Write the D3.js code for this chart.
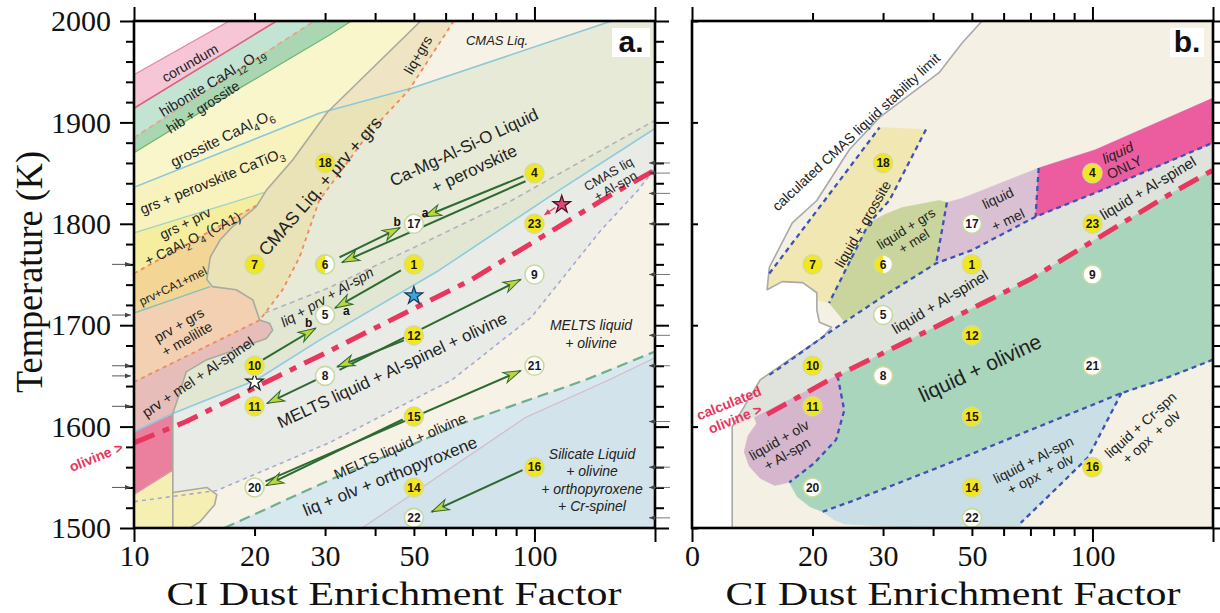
<!DOCTYPE html>
<html>
<head>
<meta charset="utf-8">
<title>CI dust enrichment vs temperature phase diagrams</title>
<script src="https://cdn.jsdelivr.net/npm/d3@7/dist/d3.min.js"></script>
<style>
  html, body { margin: 0; padding: 0; background: #ffffff; }
  svg { display: block; }
</style>
</head>
<body>
<svg id="chart" width="1220" height="613"></svg>
<script>
// ---------------- Experimental runs ----------------
const runIds  = [18, 4, 17, 23, 7, 6, 1, 9, 5, 12, 10, 8, 21, 11, 15, 20, 16, 14, 22];
const runCI   = [30, 100, 50, 100, 20, 30, 50, 100, 30, 50, 20, 30, 100, 20, 50, 20, 100, 50, 50];
const runT    = [1860, 1850, 1800, 1800, 1760, 1760, 1760, 1750, 1710, 1690, 1660, 1650, 1660, 1620, 1610, 1540, 1560, 1540, 1510];
const runKind = ["y","y","w","y","y","h","y","w","w","y","y","w","w","y","y","w","y","y","w"];

// Reference compositions (stars)
const starCI   = [20, 50, 117];
const starT    = [1644, 1729, 1819];
const starKind = ["open", "blue", "red"];

// Cooling / heating paths between runs: [CI, T] start and end
const pathStart = [[93.9,1847],[95.0,1842],[32.6,1767],[46.4,1754],[21.0,1666],[32.6,1656],[47.2,1685],[28.5,1646],[21.3,1546],[46.9,1607],[93.4,1557]];
const pathEnd   = [[53.0,1807],[33.1,1762],[46.1,1796],[31.8,1717],[28.4,1697],[92.3,1745],[32.2,1659],[21.5,1623],[92.3,1655],[21.4,1542],[55.4,1516]];
const pathTagText = ["a", "b", "a", "b"];
const pathTagCI   = [53.3, 45.4, 33.9, 27.3];
const pathTagT    = [1811, 1802, 1714, 1702];
const starLinkStart = [112.8, 1816];
const starLinkEnd   = [105.9, 1809];

// Run temperatures flagged beside the frame
const leftMarksT  = [1760, 1710, 1660, 1650, 1620, 1540];
const rightMarksT = [1860, 1850, 1830, 1800, 1750, 1690, 1660, 1605, 1560, 1540, 1510];

// Axis ticks
const xMinorTicks = [20, 30, 40, 50, 60, 70, 80, 90];
const xMajorTicks = [10, 100, 200];
const xLabelValues = [10, 20, 30, 50, 100];
const xLabelTextA = ["10", "20", "30", "50", "100"];
const xLabelTextB = ["0", "20", "30", "50", "100"];
const yMajorTicks = [1500, 1600, 1700, 1800, 1900, 2000];
const yMinorTicks = [1520,1540,1560,1580,1620,1640,1660,1680,1720,1740,1760,1780,1820,1840,1860,1880,1920,1940,1960,1980];

// Olivine saturation (dash-dot)
const olivineLine  = [[10,1584],[13.5,1605],[22.7,1649],[30.2,1673],[69.7,1745],[155.8,1829],[200,1853]];
const olivineCalcB = [[15.4,1612],[22.7,1649],[30.2,1673],[69.7,1745],[155.8,1829],[200,1853]];

// ---------------- Panel a: boundaries [CI, T] ----------------
const corTop     = [[10,1947],[17.3,2000]];
const corBottom  = [[10,1914],[22.7,2000]];
const hibDash    = [[10,1885],[28.2,2000]];
const grsIn      = [[10,1870],[18.4,1934],[30.7,1986],[34.9,2000]];
const prvIn      = [[10,1836],[29.0,1909],[49.5,1934],[155.8,2000]];
const ca1Top     = [[10,1791],[21.2,1831]];
const ca1Dash    = [[10,1751],[20.2,1818]];
const melTop     = [[10,1712],[15.5,1738]];
const melDash    = [[10,1644],[20.6,1705]];
const grsOutLiq  = [[62.9,2000],[48.6,1932],[38.7,1890],[29.0,1823],[25.9,1767],[23.5,1735],[20.6,1705]];
const prvOutLiq  = [[21.2,1712],[30.7,1737],[51.5,1779],[87.7,1823],[128.7,1860],[200,1902]];
const splIn      = [[10,1595],[12.5,1613],[20.2,1646],[29.0,1685],[57.7,1754],[115.1,1833],[200,1894]];
const meltsOlv   = [[10,1526],[16.1,1537],[30.7,1584],[62.2,1646],[98.3,1708],[146.8,1794],[181.4,1833],[200,1855]];
const opxIn      = [[16.8,1500],[30.7,1547],[64.7,1602],[134,1646],[200,1674]];
const crSplIn    = [[37.1,1500],[95.0,1609],[153.3,1646],[200,1668]];
const pinkEdge   = [[10,1533],[12.5,1557]];
const cmasLimitA = [[52.0,2000],[30.4,1910],[24.9,1863],[21.4,1833],[20.2,1817],[17.6,1797],[16.4,1784],[15.5,1767],[15.2,1745],[15.7,1738],[18.0,1735],[19.8,1725],[20.6,1705],[21.8,1702],[22.2,1695],[21.4,1687],[18.0,1676],[15.2,1666],[13.5,1654],[13.0,1633],[12.5,1613],[12.5,1500]];
const lobeA      = [[12.5,1535],[15.2,1540],[16.1,1533],[15.9,1523],[14.6,1506],[13.8,1500]];

// Panel a: phase fields
const fBlank     = [[10,2000],[17.3,2000],[10,1947]];
const fCorundum  = [[10,1947],[17.3,2000],[22.7,2000],[10,1914]];
const fHibonite  = [[10,1914],[22.7,2000],[28.2,2000],[10,1885]];
const fHibGrs    = [[10,1885],[28.2,2000],[34.9,2000],[30.7,1986],[18.4,1934],[10,1870]];
const fGrossite  = [[10,1870],[18.4,1934],[30.7,1986],[34.9,2000],[52.0,2000],[30.4,1910],[29.0,1909],[10,1836]];
const fGrsPrv    = [[10,1836],[29.0,1909],[30.4,1910],[24.9,1863],[21.4,1833],[21.2,1831],[10,1791]];
const fGrsPrvCa1 = [[10,1791],[21.2,1831],[20.2,1817],[10,1751]];
const fPrvCa1Mel = [[10,1751],[20.2,1818],[17.6,1797],[16.4,1784],[15.5,1767],[15.2,1745],[15.5,1738],[10,1712]];
const fPrvGrsMel = [[10,1712],[15.5,1738],[15.7,1738],[18.0,1735],[19.8,1725],[20.6,1705],[10,1644]];
const fPrvMelSpl = [[10,1644],[20.6,1705],[21.8,1702],[22.2,1695],[21.4,1687],[18.0,1676],[15.2,1666],[13.5,1654],[13.0,1633],[12.5,1613],[10,1595]];
const fPinkLow   = [[10,1595],[12.5,1613],[12.5,1557],[10,1533]];
const fYellowLow = [[10,1533],[12.5,1557],[12.5,1500],[10,1500]];
const fLobe      = [[12.5,1535],[15.2,1540],[16.1,1533],[15.9,1523],[14.6,1506],[13.8,1500],[12.5,1500]];
const fLiqGrs    = [[52.0,2000],[62.9,2000],[48.6,1932],[30.4,1910]];
const fLiqPrvGrs = [[30.4,1910],[48.6,1932],[38.7,1890],[29.0,1823],[25.9,1767],[23.5,1735],[20.6,1705],[19.8,1725],[18.0,1735],[15.7,1738],[15.2,1745],[15.5,1767],[16.4,1784],[17.6,1797],[20.2,1817],[21.4,1833],[24.9,1863]];
const fLiqPrv    = [[48.6,1932],[49.5,1934],[155.8,2000],[200,2000],[200,1902],[128.7,1860],[87.7,1823],[51.5,1779],[30.7,1737],[21.2,1712],[23.5,1735],[25.9,1767],[29.0,1823],[38.7,1890]];
const fLiqPrvSpl = [[21.2,1712],[30.7,1737],[51.5,1779],[87.7,1823],[128.7,1860],[200,1902],[200,1894],[115.1,1833],[57.7,1754],[29.0,1685],[20.2,1646],[12.5,1613],[13.0,1633],[13.5,1654],[15.2,1666],[18.0,1676],[21.4,1687],[22.2,1695],[21.8,1702],[20.6,1705]];
const fMeltsSpl  = [[12.5,1613],[20.2,1646],[29.0,1685],[57.7,1754],[115.1,1833],[200,1894],[200,1855],[181.4,1833],[146.8,1794],[98.3,1708],[62.2,1646],[30.7,1584],[16.1,1537],[15.2,1540],[12.5,1535]];
const fOpx       = [[16.8,1500],[30.7,1547],[64.7,1602],[134,1646],[200,1674],[200,1500]];
const fCrSpl     = [[37.1,1500],[95.0,1609],[153.3,1646],[200,1668],[200,1500]];

// ---------------- Panel b: schematic fields [CI, T] ----------------
const cmasLimitB = [[53.0,2000],[47.2,1978],[41.4,1949],[29.4,1905],[24.7,1873],[20.5,1823],[17.8,1801],[15.6,1757],[15.4,1735],[16.8,1743],[18.9,1742],[20.5,1732],[20.5,1715],[20.8,1703],[22.3,1698],[21.2,1688],[17.5,1666],[14.8,1646],[12.6,1600],[12.6,1500]];
const gLiqGrs    = [[29.4,1895],[38.4,1893],[31.1,1823],[27.7,1801],[22.0,1722],[20.5,1725],[20.5,1732],[18.9,1742],[16.8,1743],[15.4,1735],[15.6,1751],[22.4,1833]];
const gLiqGrsMel = [[22.0,1722],[27.7,1801],[30.2,1809],[33.5,1816],[41.4,1823],[43.3,1821],[40.7,1761],[29.9,1728],[24.0,1704]];
const gLiqMel    = [[43.3,1821],[47.2,1825],[73.4,1855],[72.1,1807],[50,1774],[40.7,1761]];
const gLiqOnly   = [[73.4,1855],[101.7,1873],[200,1924],[200,1880],[105.3,1833],[72.1,1807]];
const gLiqSpl    = [[15.6,1651],[16.3,1656],[22.4,1695],[29.9,1728],[40.7,1761],[50,1774],[72.1,1807],[105.3,1833],[200,1880],[200,1853],[155.8,1829],[69.7,1745],[30.2,1673],[22.7,1649],[13.5,1605],[12.6,1600],[14.8,1646]];
const gLiqOlvSpl = [[14.3,1609],[22.7,1649],[23.1,1650],[24.0,1616],[22.9,1587],[20.2,1564],[17.5,1545],[16.1,1542],[14.8,1549],[13.9,1561],[13.5,1575],[13.8,1591],[14.5,1603]];
const gLiqOlv    = [[23.1,1650],[30.2,1673],[69.7,1745],[155.8,1829],[200,1853],[200,1666],[148.5,1646],[118.1,1633],[41.4,1560],[25.7,1528],[21.2,1516],[19.7,1521],[18.3,1531],[17.5,1545],[20.2,1564],[22.9,1587],[24.0,1616]];
const gLiqSplOpx = [[21.2,1516],[25.7,1528],[41.4,1560],[118.1,1633],[97.7,1570],[83.7,1544],[66.2,1505],[66.2,1502],[32.9,1501],[24.0,1504],[22.7,1508]];
const bGrsLeft   = [[15.6,1751],[22.4,1833],[29.4,1895]];
const bGrsRight  = [[38.4,1893],[31.1,1823],[27.7,1801],[22.0,1722]];
const bSplTop    = [[15.6,1651],[16.3,1656],[22.4,1695],[29.9,1728],[40.7,1761],[50,1774],[72.1,1807],[105.3,1833],[200,1880]];
const bMelLeft   = [[43.3,1821],[40.7,1761]];
const bMelRight  = [[73.4,1855],[72.1,1807]];
const bOlvSplEdge = [[23.1,1650],[24.0,1616],[22.9,1587],[20.2,1564],[17.5,1545]];
const bOpxTop    = [[21.2,1516],[25.7,1528],[41.4,1560],[118.1,1633],[148.5,1646],[200,1666]];
const bCrSplEdge = [[118.1,1633],[97.7,1570],[83.7,1544],[66.2,1505]];

// ---------------- Layout ----------------
const TOP = 21, BOTTOM = 528;
const A_LEFT = 134, A_RIGHT = 655, B_LEFT = 692, B_RIGHT = 1213;
const SANS = "'Liberation Sans', Arial, Helvetica, sans-serif";
const SERIF = "'Liberation Serif', 'Times New Roman', Times, serif";

const svg = d3.select("#chart");
const y  = d3.scaleLinear().domain([1500, 2000]).range([BOTTOM, TOP]);
const xA = d3.scaleLog().domain([10, 200]).range([A_LEFT, A_RIGHT]);
const xB = d3.scaleLog().domain([10, 200]).range([B_LEFT, B_RIGHT]);

const defs = svg.append("defs");
[["clipA", A_LEFT], ["clipB", B_LEFT]].forEach(([id, x0]) => {
  defs.append("clipPath").attr("id", id).append("rect")
    .attr("x", x0).attr("y", TOP).attr("width", A_RIGHT - A_LEFT).attr("height", BOTTOM - TOP);
});
function marker(id, d, fill, stroke, box) {
  defs.append("marker").attr("id", id)
    .attr("viewBox", box.join(" ")).attr("refX", 0).attr("refY", 0)
    .attr("markerWidth", box[2]).attr("markerHeight", box[3])
    .attr("markerUnits", "userSpaceOnUse").attr("orient", "auto")
    .append("path").attr("d", d).attr("fill", fill)
    .attr("stroke", stroke).attr("stroke-width", stroke === "none" ? 0 : 1);
}
marker("runHead", "M0,0 L-17,-5.5 L-12,0 L-17,5.5 Z", "#bcd63c", "#2d6a31", [-19, -7, 21, 14]);
marker("redHead", "M0,0 L-6,-3 L-6,3 Z", "#e8375f", "none", [-7, -4, 8, 8]);
marker("tinyHead", "M0,0 L-6,-2.4 L-6,2.4 Z", "#444", "none", [-7, -3, 8, 6]);

function field(g, line, pts, fill) {
  g.append("path").attr("d", line(pts) + "Z").attr("fill", fill).attr("stroke", fill).attr("stroke-width", 0.6);
}
function edge(g, line, pts, stroke, width, dash) {
  g.append("path").attr("d", line(pts)).attr("fill", "none")
    .attr("stroke", stroke).attr("stroke-width", width)
    .attr("stroke-dasharray", dash || null).attr("stroke-linejoin", "round");
}

// ---------------- Panel a ----------------
const lineA = d3.line().x(d => xA(d[0])).y(d => y(d[1]));
const gA = svg.append("g").attr("clip-path", "url(#clipA)");
gA.append("rect").attr("x", A_LEFT).attr("y", TOP).attr("width", A_RIGHT - A_LEFT).attr("height", BOTTOM - TOP).attr("fill", "#f7f2e6");
[
  [fBlank, "#ffffff"], [fCorundum, "#f6c6d6"], [fHibonite, "#c3e3d3"], [fHibGrs, "#aad7b1"],
  [fGrossite, "#f9f6cc"], [fGrsPrv, "#f8f2bc"], [fGrsPrvCa1, "#f5ee9f"], [fPrvCa1Mel, "#f3d596"],
  [fPrvGrsMel, "#f3d0b1"], [fPrvMelSpl, "#e7bdb9"], [fPinkLow, "#ea809d"], [fYellowLow, "#f6efb3"],
  [fLobe, "#f6efb3"], [fLiqGrs, "#efe5c4"], [fLiqPrvGrs, "#e9e3b7"], [fLiqPrv, "#e7ead6"],
  [fLiqPrvSpl, "#e1e7d2"], [fMeltsSpl, "#e9ebe6"], [fOpx, "#d7e8ee"], [fCrSpl, "#d2e3eb"]
].forEach(([pts, c]) => field(gA, lineA, pts, c));

edge(gA, lineA, corTop, "#e58aa8", 1.3);
edge(gA, lineA, corBottom, "#d9607f", 1.6);
edge(gA, lineA, hibDash, "#e8a088", 1.6, "5,4");
edge(gA, lineA, grsIn, "#6fb672", 1.3);
edge(gA, lineA, prvIn, "#8cc8d8", 1.6);
edge(gA, lineA, ca1Top, "#9dd2c4", 1.3);
edge(gA, lineA, ca1Dash, "#f08a5a", 1.8, "4,4");
edge(gA, lineA, melTop, "#7fc5b8", 1.3);
edge(gA, lineA, melDash, "#f08a5a", 1.8, "4,4");
edge(gA, lineA, grsOutLiq, "#f08a5a", 1.8, "4,4");
edge(gA, lineA, prvOutLiq, "#b2b2bc", 1.6, "5,4");
edge(gA, lineA, splIn, "#8ccbe0", 1.6);
edge(gA, lineA, meltsOlv, "#a8a8d2", 1.6, "4,4");
edge(gA, lineA, opxIn, "#6fb08a", 2.2, "11,6");
edge(gA, lineA, crSplIn, "#d8b8c8", 1.1);
edge(gA, lineA, pinkEdge, "#c89aa0", 1.1);
edge(gA, lineA, cmasLimitA, "#a9a9a0", 1.6);
edge(gA, lineA, lobeA, "#a9a9a0", 1.6);
edge(gA, lineA, olivineLine, "#e8375f", 5, "22,9,7,9");

// ---------------- Panel b ----------------
const lineB = d3.line().x(d => xB(d[0])).y(d => y(d[1]));
const gB = svg.append("g").attr("clip-path", "url(#clipB)");
gB.append("rect").attr("x", B_LEFT).attr("y", TOP).attr("width", B_RIGHT - B_LEFT).attr("height", BOTTOM - TOP).attr("fill", "#ffffff");
field(gB, lineB, cmasLimitB.concat([[200, 1500], [200, 2000]]), "#f5f0e4");
[
  [gLiqSpl, "#dfe3dc"], [gLiqGrs, "#f0e7b3"], [gLiqGrsMel, "#c9d59c"], [gLiqMel, "#dac0d3"],
  [gLiqOnly, "#ec5d9f"], [gLiqOlv, "#a9d5bc"], [gLiqOlvSpl, "#d5b6cd"], [gLiqSplOpx, "#c9dfe5"]
].forEach(([pts, c]) => field(gB, lineB, pts, c));
edge(gB, lineB, cmasLimitB, "#a9a9a9", 1.6);
[bGrsLeft, bGrsRight, bSplTop, bMelLeft, bMelRight, bOlvSplEdge, bOpxTop, bCrSplEdge]
  .forEach(pts => edge(gB, lineB, pts, "#3b54b4", 2.3, "5,4"));
edge(gB, lineB, olivineCalcB, "#e8375f", 5, "22,9,7,9");

// ---------------- Paths, stars (panel a) ----------------
pathStart.forEach((s, i) => {
  const e = pathEnd[i];
  gA.append("line")
    .attr("x1", xA(s[0])).attr("y1", y(s[1])).attr("x2", xA(e[0])).attr("y2", y(e[1]))
    .attr("stroke", "#2d6a31").attr("stroke-width", 2).attr("marker-end", "url(#runHead)");
});
gA.append("line")
  .attr("x1", xA(starLinkStart[0])).attr("y1", y(starLinkStart[1]))
  .attr("x2", xA(starLinkEnd[0])).attr("y2", y(starLinkEnd[1]))
  .attr("stroke", "#e8375f").attr("stroke-width", 1.3).attr("marker-end", "url(#redHead)");
pathTagText.forEach((t, i) => {
  gA.append("text").attr("x", xA(pathTagCI[i])).attr("y", y(pathTagT[i]))
    .attr("dy", "0.35em").attr("text-anchor", "middle")
    .attr("font-family", SANS).attr("font-weight", "bold").attr("font-size", 12).attr("fill", "#111").text(t);
});
const starStyle = { open: ["#ffffff", "#222"], blue: ["#3aa6dc", "#1b3a5a"], red: ["#e2457a", "#4a1424"] };
starCI.forEach((c, i) => {
  gA.append("path").attr("d", d3.symbol(d3.symbolStar, 95)())
    .attr("transform", `translate(${xA(c)},${y(starT[i])})`)
    .attr("fill", starStyle[starKind[i]][0]).attr("stroke", starStyle[starKind[i]][1]).attr("stroke-width", 1.3);
});

// ---------------- Run markers (both panels) ----------------
function runMarkers(g, x) {
  const R = 9.5;
  runIds.forEach((id, i) => {
    const k = runKind[i];
    const m = g.append("g").attr("transform", `translate(${x(runCI[i])},${y(runT[i])})`);
    m.append("circle").attr("r", R).attr("fill", k === "y" ? "#f1e71c" : "#ffffff");
    if (k === "h") m.append("path").attr("d", `M0,${-R} A${R},${R} 0 0 0 0,${R} Z`).attr("fill", "#f1e71c");
    m.append("circle").attr("r", R).attr("fill", "none")
      .attr("stroke", k === "y" ? "#d9dc8c" : "#c9d9a2").attr("stroke-width", 1.6);
    m.append("text").attr("text-anchor", "middle").attr("dy", "0.36em")
      .attr("font-family", SANS).attr("font-weight", "bold").attr("font-size", 12).attr("fill", "#1a1a1a").text(id);
  });
}

// ---------------- Field labels ----------------
function addLabel(x0, y0, a) {
  const t = svg.append("text")
    .attr("transform", `translate(${x0 + a.x},${y0 + a.y}) rotate(${a.r || 0})`)
    .attr("text-anchor", "middle").attr("font-family", SANS).attr("font-size", a.s)
    .attr("fill", a.c || "#222").attr("font-style", a.it ? "italic" : null)
    .attr("font-weight", a.b ? "bold" : null).style("white-space", "pre");
  const lh = a.lh || a.s * 1.15;
  const n = a.lines.length;
  a.lines.forEach((line, i) => {
    const base = (i - (n - 1) / 2) * lh + a.s * 0.35;
    const parts = line.split(/(_\{[^}]*\})/).filter(p => p);
    let shift = 0, first = true;
    parts.forEach(p => {
      const m = p.match(/^_\{([^}]*)\}$/);
      const want = m ? a.s * 0.28 : 0;
      const ts = t.append("tspan").text(m ? m[1] : p);
      if (m) ts.attr("font-size", a.s * 0.7);
      if (a.itLine === i) ts.attr("font-style", "italic");
      if (first) { ts.attr("x", 0).attr("y", base + want); first = false; }
      else ts.attr("dy", want - shift);
      shift = want;
    });
  });
}
const RED = "#e8375f";
const labelsA = [
  { lines: ["corundum"], x: 56, y: 42, r: -30, s: 14 },
  { lines: ["hibonite CaAl_{12}O_{19}"], x: 78, y: 61, r: -31, s: 14.5 },
  { lines: ["hib + grossite"], x: 69, y: 86, r: -33, s: 14 },
  { lines: ["grossite CaAl_{4}O_{6}"], x: 88, y: 117, r: -26, s: 15 },
  { lines: ["grs + perovskite CaTiO_{3}"], x: 78, y: 160, r: -22, s: 14.5 },
  { lines: ["grs + prv", "+ CaAl_{2}O_{4} (CA1)"], x: 55, y: 210, r: -26, s: 14, lh: 17 },
  { lines: ["prv+CA1+mel"], x: 39, y: 265, r: -26, s: 12 },
  { lines: ["prv + grs", "+ melilite"], x: 49, y: 311, r: -30, s: 14, lh: 16 },
  { lines: ["prv + mel + Al-spinel"], x: 64, y: 356, r: -34, s: 14.5 },
  { lines: ["CMAS Liq. + prv + grs"], x: 186, y: 165, r: -49, s: 18 },
  { lines: ["liq+grs"], x: 284, y: 34, r: -60, s: 14 },
  { lines: ["CMAS Liq."], x: 363, y: 19, s: 13, it: true },
  { lines: ["Ca-Mg-Al-Si-O Liquid", "+ perovskite"], x: 335, y: 137, r: -25, s: 17, lh: 24 },
  { lines: ["CMAS liq", "+ Al-spn"], x: 478, y: 159, r: -30, s: 13, lh: 14 },
  { lines: ["liq + prv + Al-spn"], x: 193, y: 276, r: -30, s: 14, it: true },
  { lines: ["MELTS liquid + Al-spinel + olivine"], x: 258, y: 349, r: -25, s: 17 },
  { lines: ["MELTS liquid", "+ olivine"], x: 457, y: 313, s: 14, it: true, lh: 18 },
  { lines: ["MELTS liquid + olivine"], x: 266, y: 425, r: -24, s: 14.5 },
  { lines: ["liq + olv + orthopyroxene"], x: 256, y: 455, r: -22, s: 17 },
  { lines: ["Silicate Liquid", "+ olivine", "+ orthopyroxene", "+ Cr-spinel"], x: 458, y: 459, s: 14, it: true, lh: 17.4 },
  { lines: ["olivine >"], x: -38, y: 436, r: -22, s: 14, b: true, c: RED }
];
const labelsB = [
  { lines: ["calculated CMAS liquid stability limit"], x: 164, y: 111, r: -43, s: 14 },
  { lines: ["liquid + grossite"], x: 171, y: 203, r: -60, s: 14 },
  { lines: ["liquid + grs", "+ mel"], x: 218, y: 214, r: -32, s: 13.5, lh: 15 },
  { lines: ["liquid", "+ mel"], x: 311, y: 188, r: -25, s: 14, lh: 24 },
  { lines: ["liquid", "ONLY"], x: 429, y: 139, r: -25, s: 14, lh: 16, itLine: 0 },
  { lines: ["liquid + Al-spinel"], x: 456, y: 167, r: -31, s: 15 },
  { lines: ["liquid + Al-spinel"], x: 248, y: 281, r: -31, s: 15 },
  { lines: ["liquid + olivine"], x: 288, y: 347, r: -25, s: 21 },
  { lines: ["liquid + olv", "+ Al-spn"], x: 91, y: 426, r: -30, s: 14, lh: 16 },
  { lines: ["liquid + Al-spn", "+ opx  + olv"], x: 345, y: 446, r: -27, s: 14, lh: 16 },
  { lines: ["liquid + Cr-spn", "+ opx  + olv"], x: 454, y: 410, r: -42, s: 14, lh: 16 },
  { lines: ["calculated", "olivine >"], x: 40, y: 390, r: -22, s: 14, b: true, c: RED, lh: 17 }
];
labelsA.forEach(a => addLabel(A_LEFT, TOP, a));
labelsB.forEach(a => addLabel(B_LEFT, TOP, a));

runMarkers(svg.append("g").attr("clip-path", "url(#clipA)"), xA);
runMarkers(svg.append("g").attr("clip-path", "url(#clipB)"), xB);

// Panel letters
[[A_LEFT, "a.", 38], [B_LEFT, "b.", 34]].forEach(([x0, t, w]) => {
  svg.append("rect").attr("x", x0 + 478).attr("y", TOP + 7).attr("width", w).attr("height", 29).attr("fill", "#ffffff");
  svg.append("text").attr("x", x0 + 478 + w / 2).attr("y", TOP + 31).attr("text-anchor", "middle")
    .attr("font-family", SANS).attr("font-weight", "bold").attr("font-size", 30).attr("fill", "#111").text(t);
});

// ---------------- Axes and frames ----------------
function tickAxis(tx, ty, gen) {
  const g = svg.append("g").attr("transform", `translate(${tx},${ty})`).call(gen);
  g.select(".domain").remove();
  g.selectAll(".tick line").attr("stroke", "#000").attr("stroke-width", 2);
  g.selectAll(".tick text").remove();
}
[xA, xB].forEach(x => {
  tickAxis(0, BOTTOM, d3.axisBottom(x).tickValues(xMinorTicks).tickSize(8));
  tickAxis(0, BOTTOM, d3.axisBottom(x).tickValues(xMajorTicks).tickSize(14));
  tickAxis(0, TOP, d3.axisTop(x).tickValues(xMinorTicks).tickSize(8));
  tickAxis(0, TOP, d3.axisTop(x).tickValues(xMajorTicks).tickSize(14));
});
tickAxis(A_LEFT, 0, d3.axisLeft(y).tickValues(yMinorTicks).tickSize(8));
tickAxis(A_LEFT, 0, d3.axisLeft(y).tickValues(yMajorTicks).tickSize(14));
tickAxis(A_RIGHT, 0, d3.axisRight(y).tickValues(yMinorTicks).tickSize(9));
tickAxis(A_RIGHT, 0, d3.axisRight(y).tickValues(yMajorTicks).tickSize(14));
tickAxis(B_LEFT, 0, d3.axisRight(y).tickValues(yMajorTicks).tickSize(6));
tickAxis(B_RIGHT, 0, d3.axisRight(y).tickValues(yMinorTicks.concat(yMajorTicks)).tickSize(8));

function labelAxis(tx, ty, gen) {
  const g = svg.append("g").attr("transform", `translate(${tx},${ty})`).call(gen);
  g.select(".domain").remove();
  g.selectAll(".tick line").remove();
  g.selectAll(".tick text").attr("font-family", SERIF).attr("font-size", 30).attr("fill", "#111");
}
labelAxis(0, BOTTOM, d3.axisBottom(xA).tickValues(xLabelValues).tickSize(0).tickPadding(17).tickFormat((d, i) => xLabelTextA[i]));
labelAxis(0, BOTTOM, d3.axisBottom(xB).tickValues(xLabelValues).tickSize(0).tickPadding(17).tickFormat((d, i) => xLabelTextB[i]));
labelAxis(A_LEFT, 0, d3.axisLeft(y).tickValues(yMajorTicks).tickSize(0).tickPadding(23).tickFormat(d3.format("d")));

[[A_LEFT, A_RIGHT], [B_LEFT, B_RIGHT]].forEach(([l, r]) => {
  svg.append("rect").attr("x", l).attr("y", TOP).attr("width", r - l).attr("height", BOTTOM - TOP)
    .attr("fill", "none").attr("stroke", "#000").attr("stroke-width", 2.6);
});

// Run temperatures flagged beside panel a
leftMarksT.forEach(t => {
  svg.append("line").attr("x1", A_LEFT - 22).attr("x2", A_LEFT - 3).attr("y1", y(t)).attr("y2", y(t))
    .attr("stroke", "#444").attr("stroke-width", 0.9).attr("marker-end", "url(#tinyHead)");
});
rightMarksT.forEach(t => {
  svg.append("line").attr("x1", A_RIGHT + 15).attr("x2", A_RIGHT - 6).attr("y1", y(t)).attr("y2", y(t))
    .attr("stroke", "#555").attr("stroke-width", 0.8).attr("marker-end", "url(#tinyHead)");
});

// Axis titles
[(A_LEFT + A_RIGHT) / 2 - 0.5, (B_LEFT + B_RIGHT) / 2 + 0.5].forEach(cx => {
  svg.append("text").attr("x", cx).attr("y", 605).attr("text-anchor", "middle")
    .attr("font-family", SERIF).attr("font-size", 34).attr("fill", "#111")
    .attr("textLength", 455).attr("lengthAdjust", "spacingAndGlyphs")
    .text("CI Dust Enrichment Factor");
});
svg.append("text").attr("transform", "translate(42,272) rotate(-90)").attr("text-anchor", "middle")
  .attr("font-family", SERIF).attr("font-size", 38).attr("fill", "#111")
  .attr("textLength", 242).attr("lengthAdjust", "spacingAndGlyphs")
  .text("Temperature (K)");
</script>
</body>
</html>
